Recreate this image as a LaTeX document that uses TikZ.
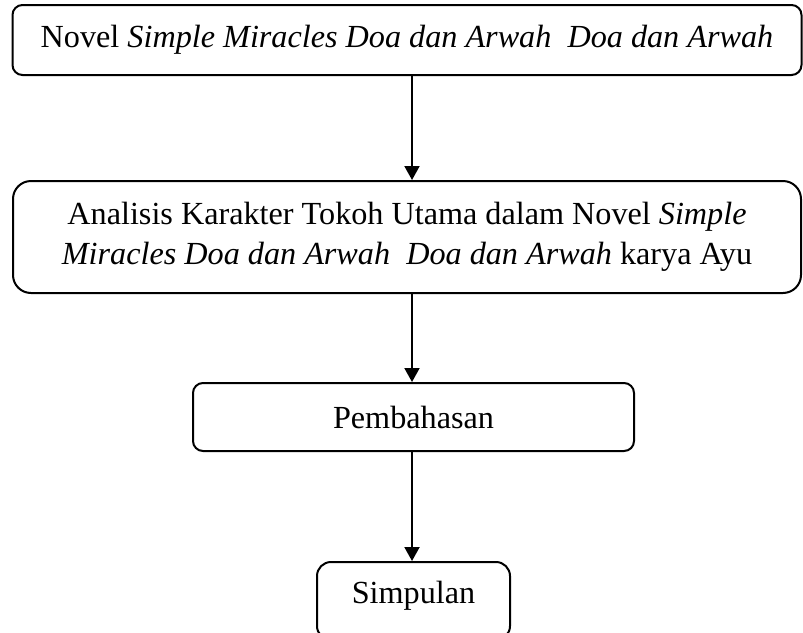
\documentclass[tikz,border=0pt]{standalone}
\usepackage{fontspec}
\setmainfont{Liberation Serif}
\usetikzlibrary{arrows.meta,positioning}

\tikzset{
  box/.style={draw,line width=1pt,rounded corners=5pt,align=center,inner sep=0pt,%
    font=\fontsize{16.1}{20}\selectfont},
  arr/.style={-{Triangle[width=7.5pt,length=7pt]},line width=1pt}
}

\begin{document}
\begin{tikzpicture}[x=0.5pt,y=-0.5pt]
      \clip (0,0) rectangle (803,632);
      \coordinate (A) at (407,40);
      \coordinate (B) at (407,237);
      \coordinate (C) at (413.5,417);
      \coordinate (D) at (413.5,601);
      \coordinate (mid) at (412,0);

      \node[box,minimum width=394.5pt,minimum height=35pt] (novel) at (A)
        {Novel \textit{Simple Miracles Doa dan Arwah\ \ Doa dan Arwah}};
      \node[box,rounded corners=9pt,minimum width=394pt,minimum height=56pt] (analisis) at (B)
        {Analisis Karakter Tokoh Utama dalam Novel \textit{Simple}\\
         \textit{Miracles Doa dan Arwah\ \ Doa dan Arwah} karya Ayu};
      \node[box,minimum width=220.5pt,minimum height=34pt] (bahas) at (C) {Pembahasan};
      \node[box,rounded corners=7pt,minimum width=96.5pt,text height=20.5pt,text depth=18.5pt] (simpul) at (D) {Simpulan};

      \draw[arr] (novel.south -| mid) -- (analisis.north -| mid);
      \draw[arr] (analisis.south -| mid) -- (bahas.north -| mid);
      \draw[arr] (bahas.south -| mid) -- (simpul.north -| mid);

\end{tikzpicture}
\end{document}
